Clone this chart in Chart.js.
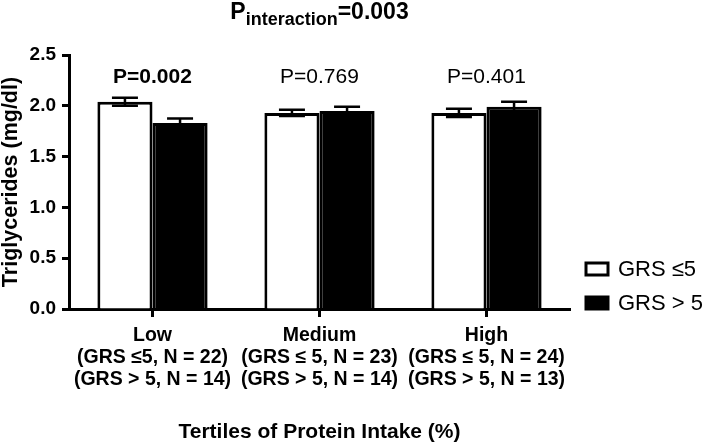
<!DOCTYPE html>
<html>
<head>
<meta charset="utf-8">
<script src="https://cdn.jsdelivr.net/npm/chart.js@4"></script>
<style>
  body { margin: 0; background: #fff; }
  #wrap { width: 709px; height: 444px; position: relative; }
</style>
</head>
<body>
<div id="wrap"><canvas id="chart"></canvas></div>
<script>
// DATA
const tertiles = ["Low", "Medium", "High"];
const groupLowN = ["(GRS \u22645, N = 22)", "(GRS \u2264 5, N = 23)", "(GRS \u2264 5, N = 24)"];
const groupHighN = ["(GRS > 5, N = 14)", "(GRS > 5, N = 14)", "(GRS > 5, N = 13)"];
const seriesNames = ["GRS \u22645", "GRS > 5"];
const grsLowMean = [2.04, 1.93, 1.93];
const grsLowSem = [0.04, 0.03, 0.04];
const grsHighMean = [1.83, 1.95, 1.99];
const grsHighSem = [0.045, 0.04, 0.05];
const pValues = ["P=0.002", "P=0.769", "P=0.401"];
const pBold = [true, false, false];
const pInteraction = "=0.003";
const yTicks = [0, 0.5, 1.0, 1.5, 2.0, 2.5];

const FONT = "'Liberation Sans', Arial, Helvetica, sans-serif";

const xLabels = tertiles.map((t, i) => [t, groupLowN[i], groupHighN[i]]);

// error bars drawn from the y scale
const errorBars = {
  id: "errorBars",
  afterDatasetsDraw(chart) {
    const ctx = chart.ctx;
    const y = chart.scales.y;
    ctx.save();
    ctx.strokeStyle = "#000";
    ctx.lineWidth = 2.5;
    chart.data.datasets.forEach((ds, di) => {
      const meta = chart.getDatasetMeta(di);
      meta.data.forEach((bar, i) => {
        const v = ds.data[i], e = ds.errors[i];
        const top = y.getPixelForValue(v + e);
        const bot = y.getPixelForValue(v - e);
        ctx.beginPath();
        ctx.moveTo(bar.x, top);
        ctx.lineTo(bar.x, bot);
        ctx.moveTo(bar.x - 13, top);
        ctx.lineTo(bar.x + 13, top);
        ctx.moveTo(bar.x - 13, bot);
        ctx.lineTo(bar.x + 13, bot);
        ctx.stroke();
      });
    });
    ctx.restore();
  }
};

// title with subscript, p values and legend
const annotations = {
  id: "annotations",
  afterDraw(chart) {
    const ctx = chart.ctx;
    const area = chart.chartArea;
    const x = chart.scales.x;
    ctx.save();
    ctx.fillStyle = "#000";
    ctx.textBaseline = "alphabetic";

    // P interaction title
    const big = "bold 23px " + FONT, small = "bold 18px " + FONT;
    ctx.font = big;
    const wP = ctx.measureText("P").width;
    const wEq = ctx.measureText(pInteraction).width;
    ctx.font = small;
    const wSub = ctx.measureText("interaction").width;
    let tx = (area.left + area.right) / 2 - (wP + wSub + wEq) / 2;
    ctx.textAlign = "left";
    ctx.font = big;
    ctx.fillText("P", tx, 19);
    tx += wP;
    ctx.font = small;
    ctx.fillText("interaction", tx, 25);
    tx += wSub;
    ctx.font = big;
    ctx.fillText(pInteraction, tx, 19);

    // p values above each tertile
    ctx.textAlign = "center";
    pValues.forEach((p, i) => {
      ctx.font = (pBold[i] ? "bold " : "") + "21px " + FONT;
      ctx.fillText(p, x.getPixelForValue(i), 83);
    });

    // legend
    const rows = [269, 303];
    chart.data.datasets.forEach((ds, di) => {
      const cy = rows[di];
      ctx.fillStyle = ds.backgroundColor;
      ctx.fillRect(586, cy - 6, 22, 12);
      ctx.strokeStyle = "#000";
      ctx.lineWidth = 3;
      ctx.strokeRect(586, cy - 6, 22, 12);
      ctx.fillStyle = "#000";
      ctx.font = "22px " + FONT;
      ctx.textAlign = "left";
      ctx.textBaseline = "middle";
      ctx.fillText(ds.label, 618, cy + 1);
    });
    ctx.restore();
  }
};

new Chart(document.getElementById("chart"), {
  type: "bar",
  data: {
    labels: xLabels,
    datasets: [
      {
        label: seriesNames[0],
        data: grsLowMean,
        errors: grsLowSem,
        backgroundColor: "#ffffff",
        borderColor: "#000000",
        borderWidth: 3,
        categoryPercentage: 0.66,
        barPercentage: 1.0
      },
      {
        label: seriesNames[1],
        data: grsHighMean,
        errors: grsHighSem,
        backgroundColor: "#000000",
        borderColor: "#000000",
        borderWidth: 3,
        categoryPercentage: 0.66,
        barPercentage: 1.0
      }
    ]
  },
  options: {
    responsive: true,
    maintainAspectRatio: false,
    animation: false,
    devicePixelRatio: 1,
    layout: { padding: { left: 0, right: 139, top: 55, bottom: 0 } },
    plugins: {
      legend: { display: false },
      tooltip: { enabled: false }
    },
    scales: {
      x: {
        afterFit: (scale) => { scale.height = 135; },
        grid: {
          offset: false,
          drawOnChartArea: false,
          drawTicks: true,
          tickLength: 8,
          tickWidth: 3,
          tickColor: "#000"
        },
        border: { display: true, color: "#000", width: 3 },
        ticks: {
          color: "#000",
          padding: 7,
          maxRotation: 0,
          autoSkip: false,
          font: { family: FONT, size: 19.5, weight: "bold", lineHeight: 1.15 }
        },
        title: {
          display: true,
          text: "Tertiles of Protein Intake (%)",
          color: "#000",
          padding: { top: 0, bottom: 0 },
          font: { family: FONT, size: 21, weight: "bold", lineHeight: 1.15 }
        }
      },
      y: {
        min: 0,
        max: 2.5,
        afterFit: (scale) => { scale.width = 69; },
        afterBuildTicks: (scale) => { scale.ticks = yTicks.map(v => ({ value: v })); },
        grid: {
          drawOnChartArea: false,
          drawTicks: true,
          tickLength: 7,
          tickWidth: 3,
          tickColor: "#000"
        },
        border: { display: true, color: "#000", width: 3 },
        ticks: {
          color: "#000",
          padding: 6,
          callback: (v) => Number(v).toFixed(1),
          font: { family: FONT, size: 19, weight: "bold" }
        },
        title: {
          display: true,
          text: "Triglycerides (mg/dl)",
          color: "#000",
          padding: { top: 0, bottom: 0 },
          font: { family: FONT, size: 21.5, weight: "bold", lineHeight: 1.0 }
        }
      }
    }
  },
  plugins: [errorBars, annotations]
});
</script>
</body>
</html>
